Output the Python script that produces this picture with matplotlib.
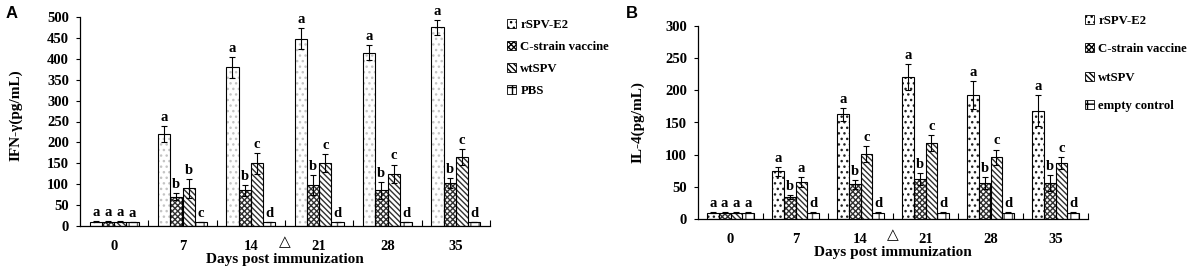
import matplotlib
matplotlib.use("Agg")
import matplotlib.pyplot as plt
import numpy as np
from matplotlib.patches import Patch

days = ["0", "7", "14", "21", "28", "35"]

# Panel A: IFN-gamma
a_series = ["rSPV-E2", "C-strain vaccine", "wtSPV", "PBS"]
a_rspv = [10, 220, 380, 448, 415, 475]
a_rspv_err = [1, 20, 25, 25, 18, 17]
a_cstrain = [10, 70, 85, 98, 85, 103]
a_cstrain_err = [1, 8, 14, 24, 20, 12]
a_wt = [10, 90, 150, 150, 125, 165]
a_wt_err = [1, 22, 25, 22, 22, 20]
a_pbs = [10, 10, 10, 10, 10, 10]
a_pbs_err = [0.5, 0.5, 0.5, 0.5, 0.5, 0.5]
a_letters = [["a", "a", "a", "a", "a", "a"],
             ["a", "b", "b", "b", "b", "b"],
             ["a", "b", "c", "c", "c", "c"],
             ["a", "c", "d", "d", "d", "d"]]

# Panel B: IL-4
b_series = ["rSPV-E2", "C-strain vaccine", "wtSPV", "empty control"]
b_rspv = [10, 74, 163, 221, 193, 168]
b_rspv_err = [1, 7, 10, 20, 22, 24]
b_cstrain = [10, 34, 54, 62, 56, 56]
b_cstrain_err = [1, 3, 7, 9, 9, 12]
b_wt = [10, 57, 101, 118, 96, 87]
b_wt_err = [1, 8, 12, 13, 12, 9]
b_empty = [10, 10, 10, 10, 10, 10]
b_empty_err = [0.5, 0.5, 0.5, 0.5, 0.5, 0.5]
b_letters = [["a", "a", "a", "a", "a", "a"],
             ["a", "b", "b", "b", "b", "b"],
             ["a", "a", "c", "c", "c", "c"],
             ["a", "d", "d", "d", "d", "d"]]

SERIF = "Liberation Serif"
W, H = 1192, 271
fig = plt.figure(figsize=(W / 100, H / 100), dpi=100)

def fx(px):
    return px / W

def fy(py):
    return 1 - py / H

axA = fig.add_axes([fx(80), fy(226), fx(490 - 80), fy(17) - fy(226)])
axB = fig.add_axes([fx(698), fy(219), fx(1088 - 698), fy(26) - fy(219)])

hatches = ["...", "xxxxxx", "\\\\\\\\\\\\", "++"]
hcolorsA = ["#c4c4c4", "#303030", "#303030", "#606060"]
hcolorsB = ["#202020", "#303030", "#303030", "#505050"]
width = 0.18
offsets = [-0.27, -0.09, 0.09, 0.27]


def draw(ax, vals, errs, letters, hcolors, ymax, ystep, names, legend_anchor, lspace):
    x = np.arange(len(days))
    for i, (v, e) in enumerate(zip(vals, errs)):
        xs = x + offsets[i]
        ax.bar(xs, v, width, color="white", edgecolor=hcolors[i], hatch=hatches[i],
               linewidth=0, zorder=2)
        ax.bar(xs, v, width, color="none", edgecolor="black", linewidth=0.8, zorder=3)
        ax.errorbar(xs, v, yerr=e, fmt="none", ecolor="black", elinewidth=0.8,
                    capsize=2.5, capthick=0.8, zorder=4)
        for j in range(len(days)):
            ax.annotate(letters[i][j], (xs[j], v[j] + e[j]), xytext=(0, 1.5),
                        textcoords="offset points", ha="center", va="bottom",
                        fontsize=10.5, fontweight="bold", family=SERIF)
    ax.set_xlim(-0.5, len(days) - 0.5)
    ax.set_ylim(0, ymax)
    ax.set_yticks(np.arange(0, ymax + 1, ystep))
    ax.set_xticks(x)
    ax.set_xticklabels(days)
    ax.set_xticks(np.arange(0.5, len(days), 1.0), minor=True)
    ax.tick_params(axis="x", which="major", length=0, pad=10)
    ax.tick_params(axis="x", which="minor", direction="in", length=4, width=0.8)
    ax.tick_params(axis="y", direction="out", length=3, width=0.8, pad=5)
    for lab in ax.get_xticklabels() + ax.get_yticklabels():
        lab.set_fontfamily(SERIF)
        lab.set_fontweight("bold")
        lab.set_fontsize(10.5)
    for s in ["top", "right"]:
        ax.spines[s].set_visible(False)
    for s in ["left", "bottom"]:
        ax.spines[s].set_linewidth(0.9)
    ax.set_xlabel("Days post immunization", family=SERIF, fontweight="bold",
                  fontsize=11, labelpad=0)
    ax.text(2.5, -0.04, "\u25B3", transform=ax.get_xaxis_transform(), ha="center",
            va="top", fontsize=11, family="DejaVu Sans")
    handles = [Patch(facecolor="white", edgecolor="black", hatch=hatches[i], linewidth=0.6)
               for i in range(4)]
    fig.legend(handles, names, loc="upper left", bbox_to_anchor=legend_anchor,
               frameon=False, prop={"family": SERIF, "weight": "bold", "size": 9.2},
               handlelength=0.7, handleheight=0.7, handletextpad=0.35,
               labelspacing=lspace, borderpad=0, borderaxespad=0)


draw(axA, [a_rspv, a_cstrain, a_wt, a_pbs], [a_rspv_err, a_cstrain_err, a_wt_err, a_pbs_err],
     a_letters, hcolorsA, 500, 50, a_series, (fx(507), fy(19)), 0.78)
draw(axB, [b_rspv, b_cstrain, b_wt, b_empty], [b_rspv_err, b_cstrain_err, b_wt_err, b_empty_err],
     b_letters, hcolorsB, 300, 50, b_series, (fx(1085), fy(15)), 1.28)

fig.text(fx(16), fy(115), "IFN-\u03b3(pg/mL)", rotation=90, ha="center", va="center",
         family=SERIF, fontweight="bold", fontsize=11)
fig.text(fx(638), fy(122), "IL-4(pg/mL)", rotation=90, ha="center", va="center",
         family=SERIF, fontweight="bold", fontsize=11)
fig.text(fx(12), fy(14), "A", ha="center", va="center", family="Liberation Sans",
         fontweight="bold", fontsize=12)
fig.text(fx(632), fy(13), "B", ha="center", va="center", family="Liberation Sans",
         fontweight="bold", fontsize=12)

fig.savefig("out.png", dpi=100)
